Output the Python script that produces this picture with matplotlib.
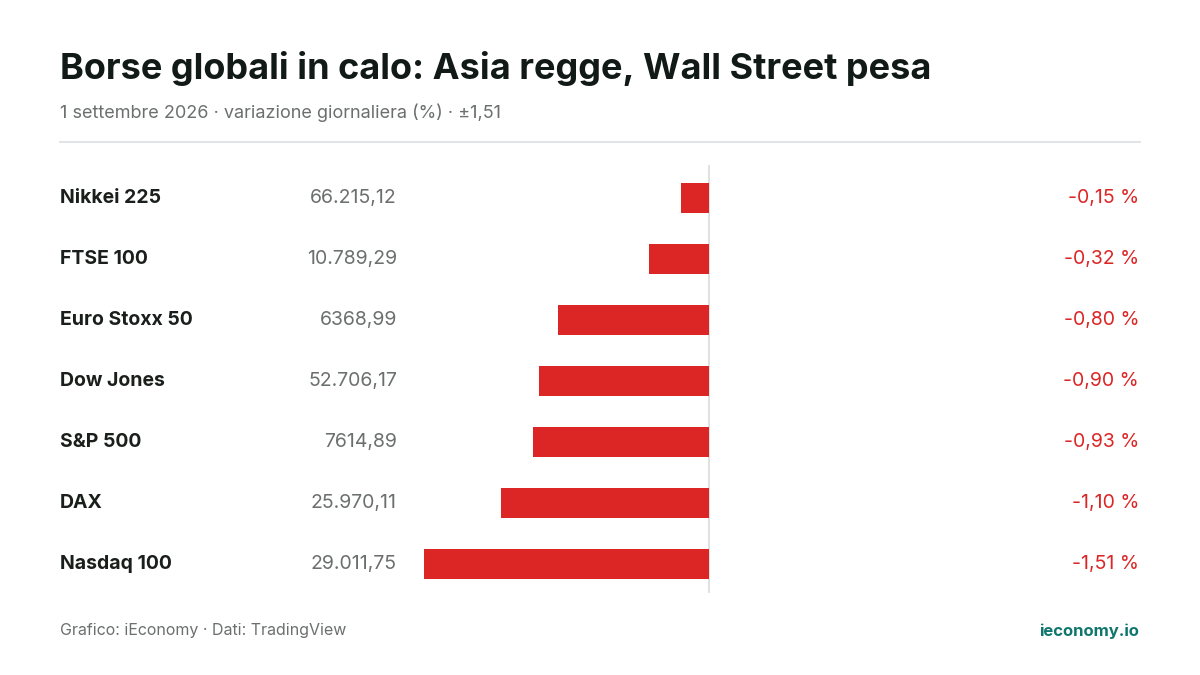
import matplotlib
matplotlib.use("Agg")
import matplotlib.pyplot as plt
from matplotlib.transforms import blended_transform_factory

names = ["Nikkei 225", "FTSE 100", "Euro Stoxx 50", "Dow Jones", "S&P 500", "DAX", "Nasdaq 100"]
levels = ["66.215,12", "10.789,29", "6368,99", "52.706,17", "7614,89", "25.970,11", "29.011,75"]
changes = [-0.15, -0.32, -0.80, -0.90, -0.93, -1.10, -1.51]

plt.rcParams['font.family'] = ['Inter', 'DejaVu Sans']
W, H = 1200, 675
fig = plt.figure(figsize=(12, 6.75), dpi=100)
fig.patch.set_facecolor("white")

def fx(px): return px / W
def fy(py): return 1 - py / H

# axes spanning pixel x 60..1140, y 165..593
ax = fig.add_axes([fx(60), fy(593), fx(1140) - fx(60), (593 - 165) / H])
ax.set_xlim((60 - 709) * 1.51 / 285, (1140 - 709) * 1.51 / 285)
ax.set_ylim((593 - 198) / 61, (165 - 198) / 61)
ax.axis("off")
red = "#dc2626"
ys = list(range(len(names)))
ax.barh(ys, changes, height=0.49, color=red)
ax.axvline(0, color="#d9dcdf", lw=1.2, zorder=0)

tr = blended_transform_factory(fig.transFigure, ax.transData)
for y, n, l, c in zip(ys, names, levels, changes):
    fig.text(fx(60), y, n, transform=tr, ha="left", va="center", fontsize=14, fontweight="bold", color="#1a1f1c")
    fig.text(fx(397), y, l, transform=tr, ha="right", va="center", fontsize=14, color="#6b6f6d")
    fig.text(fx(1139), y, f"{c:.2f} %".replace(".", ","), transform=tr, ha="right", va="center", fontsize=14, color=red)

fig.text(fx(60), fy(68), "Borse globali in calo: Asia regge, Wall Street pesa", ha="left", va="center",
         fontsize=26, fontweight="bold", color="#111a16")
fig.text(fx(60), fy(113), "1 settembre 2026 · variazione giornaliera (%) · ±1,51", ha="left", va="center",
         fontsize=13, color="#6b6f6d")
fig.add_artist(plt.Line2D([fx(60), fx(1140)], [fy(142), fy(142)], color="#dcdfe1", lw=1.2))
fig.text(fx(60), fy(631), "Grafico: iEconomy · Dati: TradingView", ha="left", va="center", fontsize=11.5, color="#6b6f6d")
fig.text(fx(1139), fy(631), "ieconomy.io", ha="right", va="center", fontsize=12, fontweight="bold", color="#0f766e")

fig.savefig("out.png", dpi=100, facecolor="white")
